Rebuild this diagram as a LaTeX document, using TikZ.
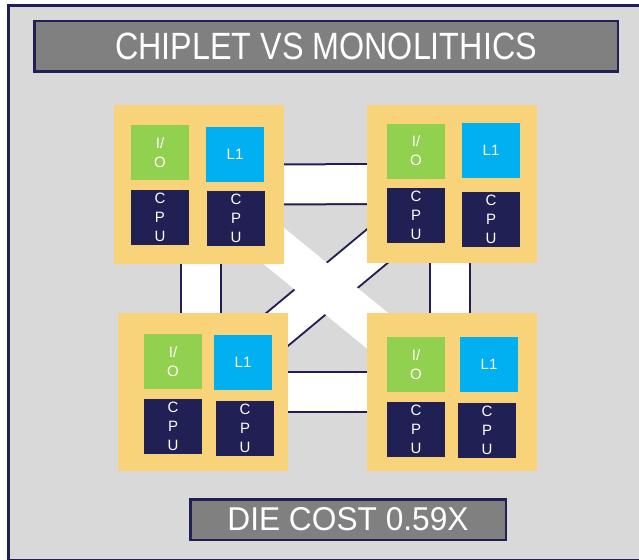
\documentclass[tikz,border=0pt]{standalone}
\usepackage{fontspec}
\setmainfont{Liberation Sans}
\newfontfamily\titlefont[FakeStretch=0.85]{Liberation Sans}
\newfontfamily\costfont[FakeStretch=0.96]{Liberation Sans}
\usepackage{xcolor}
\definecolor{fondo}{RGB}{217, 217, 217}
\definecolor{marino}{RGB}{33, 32, 84}
\definecolor{grisoscuro}{RGB}{128, 128, 128}
\definecolor{amarillo}{RGB}{249, 211, 122}
\definecolor{verde}{RGB}{146, 208, 80}
\definecolor{celeste}{RGB}{0, 176, 240}
\usepackage{tikz}
\usetikzlibrary{calc, positioning}

\pgfdeclarelayer{back}
\pgfdeclarelayer{links}
\pgfsetlayers{back,links,main}

\begin{document}
\begin{tikzpicture}[x=1pt, y=-1pt,
  chip/.style={rectangle, fill=amarillo, minimum width=170pt, minimum height=158pt, inner sep=0pt},
  block/.style={rectangle, minimum width=58pt, minimum height=55pt, inner sep=0pt, align=center, text=white, font=\fontsize{15}{19}\selectfont},
  io/.style={block, fill=verde},
  cache/.style={block, fill=celeste},
  cpu/.style={block, fill=marino},
  banner/.style={rectangle, draw=marino, line width=2.5pt, fill=grisoscuro, text=white, inner sep=0pt},
  bus/.style={line width=42pt, marino},
  businner/.style={line width=38pt, white}
]
  \useasboundingbox (0,0) rectangle (639,559);
  \begin{pgfonlayer}{back}
    \draw[marino, line width=3pt, fill=fondo] (8,5.5) rectangle (660,560);
  \end{pgfonlayer}

  % titulo y costo
  \node[banner, minimum width=583.5pt, minimum height=50.5pt, font=\titlefont\fontsize{38}{38}\selectfont] (title) at (326,46.5) {CHIPLET VS MONOLITHICS};
  \node[banner, minimum width=315.5pt, minimum height=40.5pt, font=\costfont\fontsize{33}{33}\selectfont] (cost) at (348,519.5) {DIE COST 0.59X};

  % chiplets
  \node[chip] (chipTL) at (198.5,184.5) {};
  \node[io] (ioTL) at (160,152.5) {I/\\O};
  \node[cache] (l1TL) at (235,154.5) {L1};
  \node[cpu] (cpuaTL) at (160,217.5) {C\\P\\U};
  \node[cpu] (cpubTL) at (236,218.5) {C\\P\\U};

  \node[chip] (chipTR) at (452,184) {};
  \node[io] (ioTR) at (416,151) {I/\\O};
  \node[cache] (l1TR) at (491,150.5) {L1};
  \node[cpu] (cpuaTR) at (416,215.5) {C\\P\\U};
  \node[cpu] (cpubTR) at (491,219.5) {C\\P\\U};

  \node[chip] (chipBL) at (202.5,391.5) {};
  \node[io] (ioBL) at (173,361.5) {I/\\O};
  \node[cache] (l1BL) at (243,362.5) {L1};
  \node[cpu] (cpuaBL) at (173,426.5) {C\\P\\U};
  \node[cpu] (cpubBL) at (245,428.5) {C\\P\\U};

  \node[chip] (chipBR) at (452,391.5) {};
  \node[io] (ioBR) at (416,364.5) {I/\\O};
  \node[cache] (l1BR) at (489,364.5) {L1};
  \node[cpu] (cpuaBR) at (416,429.5) {C\\P\\U};
  \node[cpu] (cpubBR) at (487,430.5) {C\\P\\U};

  \coordinate (midL) at ($(chipTL.center)!0.5!(chipBL.center)$);
  \coordinate (midR) at ($(chipTR.center)!0.5!(chipBR.center)+(-2.5,0)$);

  % enlaces entre chiplets
  \begin{pgfonlayer}{links}
    \draw[bus, line width=41pt] (chipBL.center) -- (chipTR.center);
    \draw[businner, line width=37pt] (chipBL.center) -- (chipTR.center);
    \draw[white, line width=41pt] (chipTL.center) -- (chipBR.center);

    \draw[bus] (chipTL.center) -- (chipTR.center);
    \draw[businner] (chipTL.center) -- (chipTR.center);
    \draw[bus] (chipBL.center) -- (chipBR.center);
    \draw[businner] (chipBL.center) -- (chipBR.center);
    \draw[bus] (midL |- chipTL.center) -- (midL |- chipBL.center);
    \draw[businner] (midL |- chipTL.center) -- (midL |- chipBL.center);
    \draw[bus] (midR |- chipTR.center) -- (midR |- chipBR.center);
    \draw[businner] (midR |- chipTR.center) -- (midR |- chipBR.center);
  \end{pgfonlayer}
\end{tikzpicture}
\end{document}
